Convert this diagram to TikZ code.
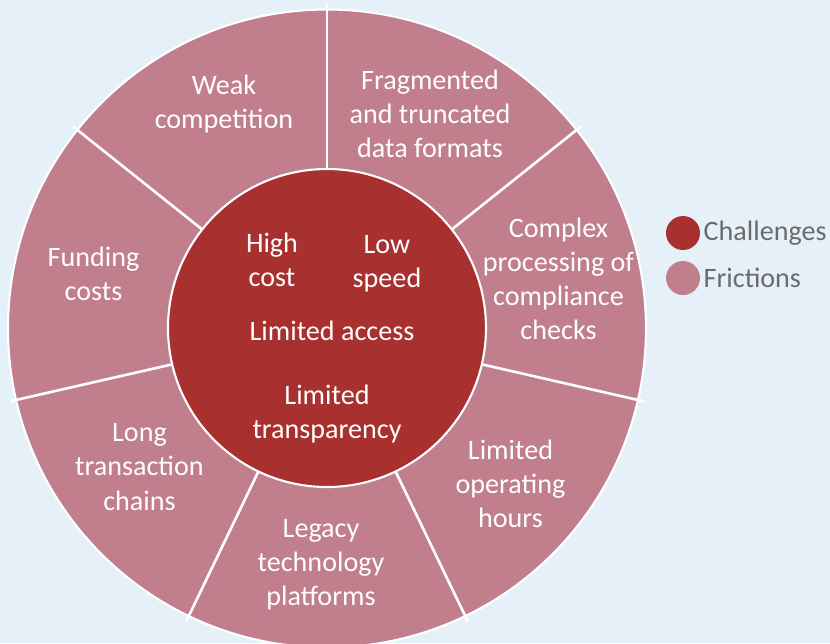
\documentclass[tikz,border=0pt]{standalone}
\usepackage{fontspec}
\setmainfont{Carlito}
\usepackage{tikz}

\definecolor{bgblue}{RGB}{229,240,249}
\definecolor{challengered}{RGB}{168,48,47}
\definecolor{frictionpink}{RGB}{193,126,141}
\definecolor{legendgray}{RGB}{107,107,107}

\begin{document}
\begin{tikzpicture}[
		wheeltext/.style = {text=white, align=center, font=\fontsize{16}{19.4}\selectfont},
		legendtext/.style = {text=legendgray, anchor=west, inner sep=0pt, font=\fontsize{16}{19.4}\selectfont},
		legenddot/.style = {circle, minimum size=0.68cm, inner sep=0pt},
		divider/.style = {draw=white, line width=1.5pt}
			]
		% page and background
		\fill [bgblue] (-6.54,-6.28) rectangle (10.06,6.58);
		\clip (-6.54,-6.28) rectangle (10.06,6.58);

		% outer ring of frictions
		\node [circle, fill=frictionpink, draw=white, line width=1.2pt, minimum size=12.76cm, inner sep=0pt] (ring) at (0,0.01) {};
		\foreach \i in {0,...,6}
			\draw [divider] (90+\i*360/7:3.1) -- (90+\i*360/7:6.5);

		% inner circle of challenges
		\node [circle, fill=challengered, draw=white, line width=1.2pt, minimum size=6.36cm, inner sep=0pt] (core) at (0,0.02) {};

		\node [wheeltext] (highcost) at (-1.10,1.39) {High\\cost};
		\node [wheeltext] (lowspeed) at (1.20,1.31) {Low\\speed};
		\node [wheeltext] (access) at (0.10,-0.04) {Limited access};
		\node [wheeltext] (transparency) at (0,-1.70) {Limited\\transparency};

		\node [wheeltext] (weak) at (-2.06,4.50) {Weak\\competition};
		\node [wheeltext] (fragmented) at (2.06,4.30) {Fragmented\\and truncated\\data formats};
		\node [wheeltext] (complex) at (4.63,1.01) {Complex\\processing of\\compliance\\checks};
		\node [wheeltext] (hours) at (3.67,-3.10) {Limited\\operating\\hours};
		\node [wheeltext] (legacy) at (-0.12,-4.72) {Legacy\\technology\\platforms};
		\node [wheeltext] (chains) at (-3.75,-2.76) {Long\\transaction\\chains};
		\node [wheeltext] (funding) at (-4.67,1.10) {Funding\\costs};

		% legend
		\node [legenddot, fill=challengered] (challengedot) at (7.12,1.92) {};
		\node [legenddot, fill=frictionpink] (frictiondot) at (7.12,1.02) {};
		\node [legendtext] (challengelabel) at ([xshift=0.06cm]challengedot.east) {Challenges};
		\node [legendtext] (frictionlabel) at ([xshift=0.06cm]frictiondot.east) {Frictions};

	\end{tikzpicture}
\end{document}
